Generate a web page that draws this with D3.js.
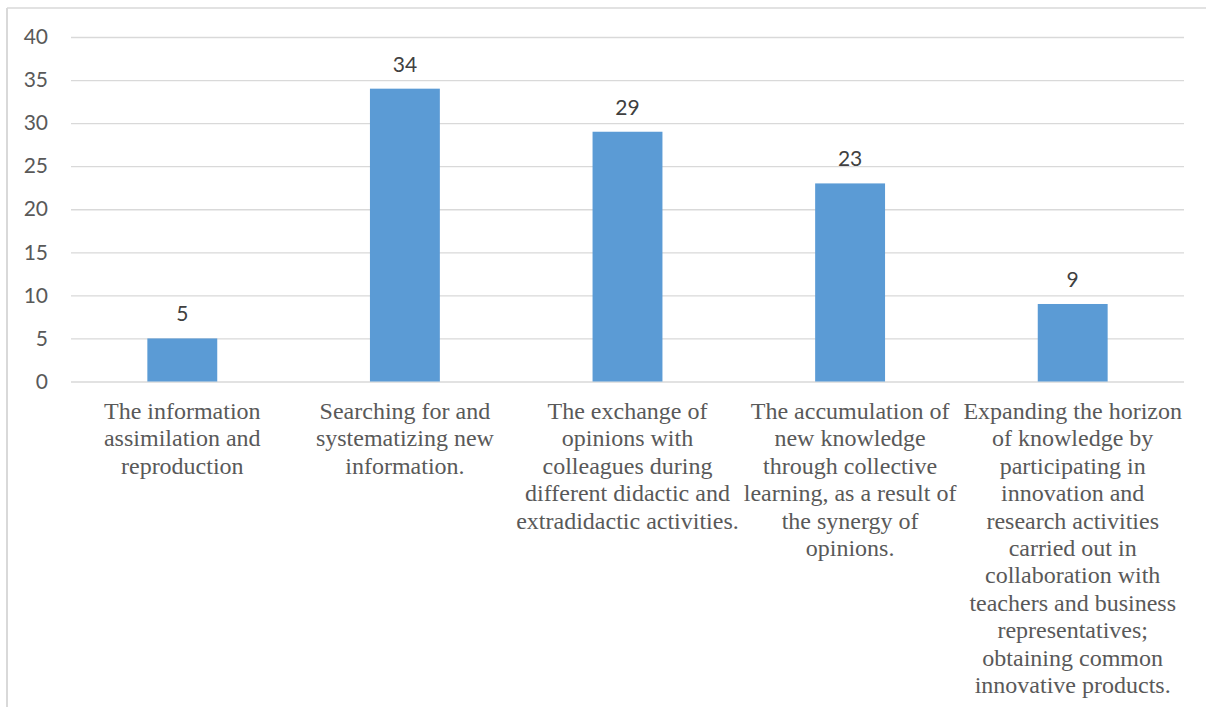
<!DOCTYPE html>
<html>
<head>
<meta charset="utf-8">
<script src="https://cdn.jsdelivr.net/npm/d3@7"></script>
<style>
  html, body { margin: 0; padding: 0; background: #fff; }
  svg { display: block; }
</style>
</head>
<body>
<svg id="chart" width="1206" height="707"></svg>
<script>
// Category labels, already broken into the lines shown under each bar
const categories = [
  ["The information", "assimilation and", "reproduction"],
  ["Searching for and", "systematizing new", "information."],
  ["The exchange of", "opinions with", "colleagues during", "different didactic and", "extradidactic activities."],
  ["The accumulation of", "new knowledge", "through collective", "learning, as a result of", "the synergy of", "opinions."],
  ["Expanding the horizon", "of knowledge by", "participating in", "innovation and", "research activities", "carried out in", "collaboration with", "teachers and business", "representatives;", "obtaining common", "innovative products."]
];
const values = [5, 34, 29, 23, 9];
const yTicks = [0, 5, 10, 15, 20, 25, 30, 35, 40];

const svg = d3.select("#chart");
const W = 1206, H = 707;

// Chart frame (only the top and left edges fall inside the view)
svg.append("line").attr("x1", 7).attr("x2", W).attr("y1", 8).attr("y2", 8)
  .attr("stroke", "#d9d9d9").attr("stroke-width", 1.5);
svg.append("line").attr("x1", 7).attr("x2", 7).attr("y1", 8).attr("y2", H)
  .attr("stroke", "#d9d9d9").attr("stroke-width", 2);

const plot = { left: 71, right: 1184, top: 37, bottom: 381.5 };

const keys = categories.map((c, i) => i);
const x = d3.scaleBand()
  .domain(keys)
  .range([plot.left, plot.right])
  .paddingInner(0.686)
  .paddingOuter(0.343);

const y = d3.scaleLinear().domain([0, 40]).range([plot.bottom, plot.top]);

// Horizontal gridlines and value axis labels
const yAxis = d3.axisLeft(y)
  .tickValues(yTicks)
  .tickSize(-(plot.right - plot.left))
  .tickPadding(23);

const gy = svg.append("g")
  .attr("transform", `translate(${plot.left},0)`)
  .call(yAxis);
gy.select(".domain").remove();
gy.selectAll(".tick line").attr("stroke", "#d9d9d9").attr("stroke-width", 1.3);
gy.selectAll(".tick text")
  .attr("fill", "#595959")
  .style("font-family", "Lato, 'Open Sans', sans-serif")
  .style("font-size", "21px");

// Bars
svg.append("g").selectAll("rect")
  .data(values)
  .join("rect")
  .attr("x", (d, i) => x(i))
  .attr("width", x.bandwidth())
  .attr("y", d => y(d))
  .attr("height", d => y(0) - y(d))
  .attr("fill", "#5b9bd5");

// Value labels above bars
svg.append("g").selectAll("text")
  .data(values)
  .join("text")
  .attr("x", (d, i) => x(i) + x.bandwidth() / 2)
  .attr("y", d => y(d) - 17)
  .attr("text-anchor", "middle")
  .attr("fill", "#404040")
  .style("font-family", "Lato, 'Open Sans', sans-serif")
  .style("font-size", "21px")
  .text(d => d);

// Category labels, centred under each bar
const step = x.step();
const catG = svg.append("g");
categories.forEach((lines, i) => {
  const cx = x(i) + x.bandwidth() / 2;
  const t = catG.append("text")
    .attr("x", cx)
    .attr("y", 419)
    .attr("text-anchor", "middle")
    .attr("fill", "#595959")
    .style("font-family", "'Liberation Serif', 'Times New Roman', serif")
    .style("font-size", "24px");
  lines.forEach((ln, k) => {
    t.append("tspan")
      .attr("x", cx)
      .attr("dy", k === 0 ? 0 : 27.4)
      .text(ln);
  });
});
</script>
</body>
</html>
